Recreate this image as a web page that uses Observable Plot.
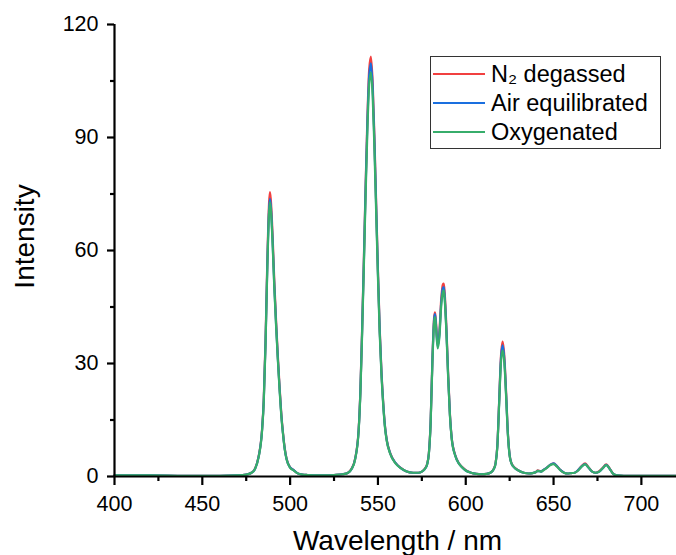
<!DOCTYPE html>
<html>
<head>
<meta charset="utf-8">
<script src="https://cdn.jsdelivr.net/npm/d3@7"></script>
<script src="https://cdn.jsdelivr.net/npm/@observablehq/plot@0.6"></script>
<style>
  html, body { margin: 0; padding: 0; background: #fff; }
  #wrap { position: relative; width: 676px; height: 555px; overflow: hidden; font-family: "Liberation Sans", Arial, sans-serif; }
  #legend { position: absolute; left: 430px; top: 56px; width: 231px; height: 93px; box-sizing: border-box; border: 1.5px solid #333; background: #fff; }
  .row { position: absolute; left: 2px; height: 26px; display: flex; align-items: center; font-size: 23.5px; color: #000; white-space: nowrap; }
  .sw { display: inline-block; width: 52px; height: 2px; margin-right: 6px; }
</style>
</head>
<body>
<div id="wrap"></div>
<script>
const wavelength = [
  400,420,440,460,470,475,478,480,482,484,
  485,486,487,488,488.5,489,490,491,492,493,
  494,495,496,497,498,500,502,504,507,510,
  515,520,525,530,533,535,537,539,540,541,
  542,543,544,545,546,547,548,549,550,551,
  552,553,554,555,557,560,563,566,570,573,
  575,577,578,579,580,581,582,582.5,583,584,
  585,586,587,587.5,588,589,590,591,592,594,
  596,598,600,603,606,609,612,614,616,617,
  618,619,620,621,622,623,624,625,626,628,
  630,633,636,638,640,641,642,643,644,646,
  648,650,652,654,656,658,660,662,664,666,
  668,670,672,674,676,678,680,682,684,686,
  690,700,710,720
];
const n2Degassed = [
  0.3,0.3,0.2,0.2,0.3,0.5,1.0,2.1,5.2,12.4,
  20.7,36.3,57,72.6,75.5,73.6,64.3,51.8,41.4,32.1,
  23.8,16.6,11.4,7.3,4.7,2.4,1.7,0.9,0.5,0.4,
  0.3,0.3,0.4,0.6,1.0,2.1,4.7,12.4,22.8,39.4,
  58,77.7,95.3,108,111.5,104.7,90.2,72.5,54.9,39.4,
  28,19.7,13.5,9.8,6.2,3.6,2.3,1.4,1.0,1.0,
  1.3,2.3,3.3,6.2,14.5,31,42.3,43.6,41.3,35.2,
  38.4,46.9,51,51.2,48.8,39.5,27,16.6,10.3,5.7,
  3.6,2.5,1.7,1.0,0.7,0.6,0.7,1.0,2.1,3.6,
  8.3,19.8,31.6,35.8,31.8,22.2,11.5,5.7,3.6,2.3,
  1.6,1.0,0.8,0.9,1.2,1.6,1.5,1.4,1.7,2.3,
  3.1,3.5,2.7,1.7,1.0,0.8,0.9,1.0,1.7,2.8,
  3.5,2.4,1.3,1.0,1.4,2.3,3.2,2.1,0.7,0.3,
  0.2,0.2,0.2,0.2
];
const airEquilibrated = [
  0.3,0.3,0.2,0.2,0.3,0.5,1.0,2.0,5.1,12.2,
  20.3,35.5,55.8,70.9,73.7,71.9,62.8,50.6,40.5,31.4,
  23.3,16.2,11.1,7.1,4.6,2.4,1.7,0.9,0.5,0.4,
  0.3,0.3,0.4,0.6,1.0,2.0,4.6,12.2,22.5,38.8,
  57.2,76.7,94,106.3,109.7,103.2,88.9,71.5,54.2,38.8,
  27.6,19.4,13.3,9.7,6.1,3.6,2.2,1.4,1.0,1.0,
  1.3,2.2,3.2,6.1,14.3,30.6,41.8,43.1,40.7,34.6,
  37.7,46,50,50.3,47.9,38.7,26.5,16.3,10.2,5.6,
  3.5,2.4,1.6,1.0,0.7,0.6,0.7,1.0,2.0,3.5,
  8.2,19.5,30.9,34.8,31,21.6,11.3,5.6,3.5,2.2,
  1.6,1.0,0.8,0.9,1.2,1.5,1.4,1.3,1.7,2.3,
  3.1,3.5,2.7,1.7,1.0,0.8,0.9,1.0,1.7,2.7,
  3.3,2.3,1.3,1.0,1.3,2.2,3.1,2.0,0.7,0.3,
  0.2,0.2,0.2,0.2
];
const oxygenated = [
  0.3,0.3,0.2,0.2,0.3,0.5,1.0,2.0,5.0,12,
  20,35,55,70,72.8,71,62,50,40,31,
  23,16,11,7,4.5,2.3,1.6,0.9,0.5,0.4,
  0.3,0.3,0.4,0.6,1.0,2.0,4.5,12,22,38,
  56,75,92,104,107.3,101,87,70,53,38,
  27,19,13,9.5,6,3.5,2.2,1.4,1.0,1.0,
  1.3,2.2,3.2,6,14,30,41,42.3,40,34,
  37,45,49,49.4,47,38,26,16,10,5.5,
  3.5,2.4,1.6,1.0,0.7,0.6,0.7,1.0,2.0,3.5,
  8,19,30,33.5,30,21,11,5.5,3.5,2.2,
  1.6,1.0,0.8,0.9,1.2,1.5,1.4,1.3,1.6,2.2,
  3.0,3.3,2.6,1.6,1.0,0.8,0.9,1.0,1.6,2.6,
  3.2,2.3,1.3,1.0,1.3,2.2,3.0,2.0,0.7,0.3,
  0.2,0.2,0.2,0.2
];
const seriesNames = ["N₂ degassed", "Air equilibrated", "Oxygenated"];
const seriesColors = ["#F14040", "#1A6FDF", "#37AD6B"];
const xTicks = [400, 450, 500, 550, 600, 650, 700];
const xMinorTicks = [425, 475, 525, 575, 625, 675];
const yTicks = [0, 30, 60, 90, 120];
const yMinorTicks = [15, 45, 75, 105];
const xTitle = "Wavelength / nm";
const yTitle = "Intensity";

if (![n2Degassed, airEquilibrated, oxygenated].every(a => a.length === wavelength.length)) {
  throw new Error("length mismatch " + [wavelength.length, n2Degassed.length, airEquilibrated.length, oxygenated.length]);
}

const seriesValues = [n2Degassed, airEquilibrated, oxygenated];
const rows = [];
seriesValues.forEach((vals, s) => {
  vals.forEach((v, i) => rows.push({series: seriesNames[s], wl: wavelength[i], intensity: v}));
});

const chart = Plot.plot({
  width: 676,
  height: 555,
  marginLeft: 114,
  marginRight: 0,
  marginTop: 24,
  marginBottom: 79,
  x: {domain: [400, 720], label: null},
  y: {domain: [0, 120], label: null},
  color: {domain: seriesNames, range: seriesColors},
  style: {fontFamily: "'Liberation Sans', Arial, sans-serif", color: "#000", background: "#fff", overflow: "visible"},
  marks: [
    Plot.line(rows, {x: "wl", y: "intensity", z: "series", stroke: "series", strokeWidth: 2.2, curve: "monotone-x"}),
    Plot.ruleY([0], {stroke: "#000", strokeWidth: 2.2}),
    Plot.ruleX([400], {stroke: "#000", strokeWidth: 2.2}),
    Plot.axisX(xTicks, {tickSize: 9, tickPadding: 10, strokeWidth: 2.2, fontSize: 21.5, label: null}),
    Plot.axisX(xMinorTicks, {tickSize: 5, strokeWidth: 2.2, tickFormat: () => "", label: null}),
    Plot.axisY(yTicks, {tickSize: 7, tickPadding: 9, strokeWidth: 2.2, fontSize: 21.5, label: null}),
    Plot.axisY(yMinorTicks, {tickSize: 4, strokeWidth: 2.2, tickFormat: () => "", label: null}),
    Plot.text([xTitle], {frameAnchor: "bottom", lineAnchor: "bottom", dy: 73, dx: 2, fontSize: 28}),
    Plot.text([yTitle], {frameAnchor: "left", textAnchor: "middle", lineAnchor: "middle", rotate: -90, dx: -89, dy: -14, fontSize: 28})
  ]
});

const wrap = document.getElementById("wrap");
wrap.appendChild(chart);

const legend = document.createElement("div");
legend.id = "legend";
seriesNames.forEach((name, i) => {
  const row = document.createElement("div");
  row.className = "row";
  row.style.top = (4 + i * 29) + "px";
  const sw = document.createElement("span");
  sw.className = "sw";
  sw.style.background = seriesColors[i];
  const t = document.createElement("span");
  t.textContent = name;
  row.appendChild(sw);
  row.appendChild(t);
  legend.appendChild(row);
});
wrap.appendChild(legend);
</script>
</body>
</html>
